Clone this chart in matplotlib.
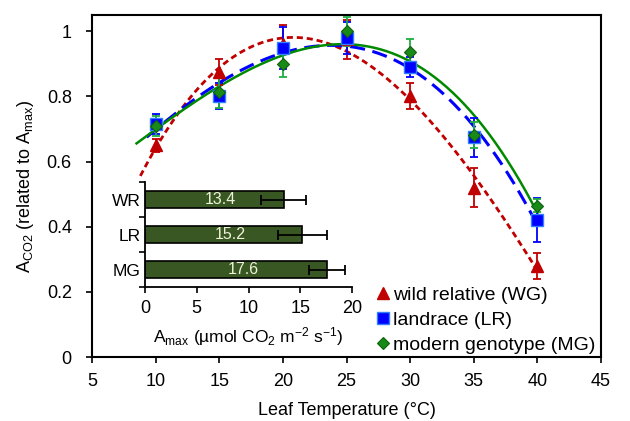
import numpy as np
import matplotlib
matplotlib.use('Agg')
from matplotlib import pyplot as plt

plt.rcParams['font.family'] = ['Liberation Sans', 'DejaVu Sans']
plt.rcParams['mathtext.fontset'] = 'custom'
plt.rcParams['mathtext.rm'] = 'Liberation Sans'
plt.rcParams['mathtext.it'] = 'Liberation Sans:italic'

# leaf temperature (°C)
temp = [10, 15, 20, 25, 30, 35, 40]

# relative assimilation (A_CO2 / A_max) and error
wr_mean = [0.65, 0.875, 0.96, 0.975, 0.80, 0.52, 0.28]
wr_err = [0.02, 0.04, 0.06, 0.06, 0.04, 0.06, 0.04]
lr_mean = [0.715, 0.80, 0.948, 0.98, 0.89, 0.675, 0.42]
lr_err = [0.03, 0.04, 0.065, 0.05, 0.03, 0.06, 0.068]
mg_mean = [0.71, 0.815, 0.90, 1.0, 0.937, 0.683, 0.465]
mg_err = [0.03, 0.05, 0.04, 0.045, 0.04, 0.04, 0.02]

series_names = ['wild relative (WG)', 'landrace (LR)', 'modern genotype (MG)']

# inset: A_max per genotype
amax_labels = ['WR', 'LR', 'MG']
amax_vals = [13.4, 15.2, 17.6]
amax_err = [2.2, 2.35, 1.75]

red = '#c00000'
blue = '#0000ff'
green = '#008a00'

fig = plt.figure(figsize=(6.3, 4.21), dpi=100)
ax = fig.add_axes([92/630, 1-357/421, (601-92)/630, (357-15)/421])

t = np.array(temp)
# 3rd order trendlines fitted on the points
fits = [(wr_mean, red, (0, (2.2, 1.4)), 2.0, 8.8),
        (lr_mean, blue, (0, (5, 2.5)), 2.2, 9.3),
        (mg_mean, green, '-', 1.8, 8.5)]
for ys, col, ls, lw, x0 in fits:
    p = np.polyfit(t, ys, 3)
    xx = np.linspace(x0, 40, 200)
    ax.plot(xx, np.polyval(p, xx), color=col, ls=ls, lw=lw, zorder=2)

ax.errorbar(temp, wr_mean, yerr=wr_err, fmt='none', ecolor=red, elinewidth=1.3,
            capsize=3, capthick=1.3, zorder=3)
ax.errorbar(temp, lr_mean, yerr=lr_err, fmt='none', ecolor=blue, elinewidth=1.3,
            capsize=3, capthick=1.3, zorder=3)
ax.errorbar(temp, mg_mean, yerr=mg_err, fmt='none', ecolor='#1fb040', elinewidth=1.3,
            capsize=3, capthick=1.3, zorder=3)

ax.plot(temp, wr_mean, '^', color=red, ms=8.5, mec=red, label=series_names[0], zorder=4)
ax.plot(temp, lr_mean, 's', color=blue, ms=8.5, mec='#3080ff', mew=1, label=series_names[1], zorder=5)
ax.plot(temp, mg_mean, 'D', color='#178a17', ms=6.5, mec='#0f600f', mew=0.8, label=series_names[2], zorder=6)

ax.set_xlim(5, 45)
ax.set_ylim(0, 1.05)
ax.set_xticks(range(5, 46, 5))
ax.set_yticks([0, 0.2, 0.4, 0.6, 0.8, 1])
ax.set_yticklabels(['0', '0.2', '0.4', '0.6', '0.8', '1'])
ax.tick_params(axis='both', direction='out', length=4.5, width=1.2, labelsize=13)
ax.tick_params(axis='x', pad=7)
ax.tick_params(axis='y', pad=10)
for s in ax.spines.values():
    s.set_linewidth(1.5)
ax.set_xlabel('Leaf Temperature (°C)', fontsize=13, labelpad=9)
ax.set_ylabel(r'A$_{\mathrm{CO2}}$ (related to A$_{\mathrm{max}}$)', fontsize=13, labelpad=8)

ax.legend(loc='lower right', bbox_to_anchor=(1.015, -0.03), frameon=False, fontsize=14,
          handlelength=0.6, handletextpad=0.2, labelspacing=0.38, borderaxespad=0.3)

# inset bar chart
ins = fig.add_axes([145/630, 1-287/421, (352-145)/630, (287-182)/421])
ins.patch.set_alpha(0)
pos = np.arange(len(amax_labels))
ins.barh(pos, amax_vals, height=0.5, color='#385723', edgecolor='black', lw=1.2,
         xerr=amax_err, error_kw=dict(ecolor='black', elinewidth=1.3, capsize=3.5, capthick=1.3))
for i, v in enumerate(amax_vals):
    ins.text(v * 0.54, i, f'{v:.1f}', color='#eef2d8', fontsize=11.5, ha='center', va='center')
ins.set_ylim(2.5, -0.5)
ins.set_xlim(0, 20)
ins.set_yticks([-0.5, 0.5, 1.5, 2.5])
ins.set_yticklabels([])
ins.set_yticks(pos, minor=True)
ins.set_yticklabels(amax_labels, minor=True, fontsize=12.5)
ins.tick_params(axis='y', which='minor', length=0, pad=3)
ins.tick_params(axis='y', which='major', length=4.5, width=1.2)
ins.set_xticks([0, 5, 10, 15, 20])
ins.tick_params(axis='x', length=4.5, width=1.2, labelsize=13, pad=5)
ins.spines['top'].set_visible(False)
ins.spines['right'].set_visible(False)
ins.spines['left'].set_linewidth(1.3)
ins.spines['bottom'].set_linewidth(1.3)
ins.set_xlabel(r'A$_{\mathrm{max}}$ (µmol CO$_2$ m$^{-2}$ s$^{-1}$)', fontsize=12.5, labelpad=6)

fig.savefig('out.png', dpi=100)
